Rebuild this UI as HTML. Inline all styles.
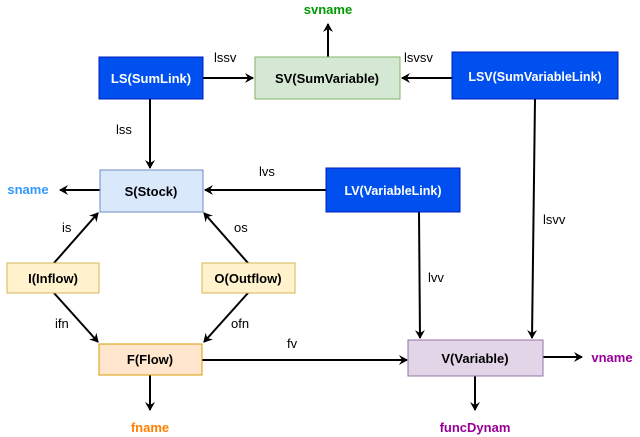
<!DOCTYPE html>
<html><head><meta charset="utf-8"><style>
html,body{margin:0;padding:0;background:#fff;}
svg{display:block;font-family:"Liberation Sans",Arial,sans-serif;}
.b{font-weight:bold;font-size:13px;text-anchor:middle;}
.l{font-size:13px;fill:#000;}
</style></head><body>
<svg width="640" height="437" viewBox="0 0 640 437" xmlns="http://www.w3.org/2000/svg">
<defs><marker id="a" markerWidth="10" markerHeight="10" refX="8" refY="5" orient="auto" markerUnits="userSpaceOnUse"><path d="M0,0 L9,5 L0,10 L3,5 z" fill="#000"/></marker></defs>
<g stroke="#000" stroke-width="2" fill="none" marker-end="url(#a)">
<line x1="328" y1="57" x2="328" y2="24"/>
<line x1="203" y1="78" x2="253" y2="78"/>
<line x1="452" y1="78" x2="402" y2="78"/>
<line x1="150" y1="99" x2="150" y2="168"/>
<line x1="326" y1="190" x2="205" y2="190"/>
<line x1="100" y1="190" x2="60" y2="190"/>
<line x1="54" y1="263" x2="98" y2="213"/>
<line x1="248" y1="263" x2="204" y2="213"/>
<line x1="54" y1="293" x2="98" y2="342"/>
<line x1="248" y1="293" x2="204" y2="342"/>
<line x1="419" y1="212" x2="420" y2="338"/>
<line x1="535" y1="99" x2="532" y2="338"/>
<line x1="202" y1="360" x2="407" y2="360"/>
<line x1="543" y1="357" x2="582" y2="357"/>
<line x1="150" y1="375" x2="150" y2="410"/>
<line x1="475" y1="376" x2="475" y2="410"/>
</g>
<rect x="99" y="57" width="104" height="42" fill="#0050ef" stroke="#001dbc"/>
<rect x="255" y="57" width="145" height="42" fill="#d5e8d4" stroke="#82b366"/>
<rect x="452" y="52" width="166" height="47" fill="#0050ef" stroke="#001dbc"/>
<rect x="100" y="170" width="103" height="42" fill="#dae8fc" stroke="#6c8ebf"/>
<rect x="326" y="168" width="134" height="44" fill="#0050ef" stroke="#001dbc"/>
<rect x="7" y="263" width="92" height="30" fill="#fff2cc" stroke="#d6b656"/>
<rect x="202" y="263" width="93" height="30" fill="#fff2cc" stroke="#d6b656"/>
<rect x="99" y="344" width="103" height="31" fill="#ffe6cc" stroke="#d79b00"/>
<rect x="408" y="340" width="135" height="36" fill="#e1d5e7" stroke="#9673a6"/>
<text class="b" x="151" y="83" fill="#fff">LS(SumLink)</text>
<text class="b" x="327" y="83">SV(SumVariable)</text>
<text class="b" x="535" y="81" fill="#fff" style="font-size:12.5px">LSV(SumVariableLink)</text>
<text class="b" x="151" y="196">S(Stock)</text>
<text class="b" x="393" y="195" fill="#fff" style="font-size:12.5px">LV(VariableLink)</text>
<text class="b" x="53" y="283">I(Inflow)</text>
<text class="b" x="248" y="283">O(Outflow)</text>
<text class="b" x="150" y="364">F(Flow)</text>
<text class="b" x="475" y="363">V(Variable)</text>
<text class="b" x="328" y="14" fill="#009900">svname</text>
<text class="b" x="28" y="194" fill="#3399ff">sname</text>
<text class="b" x="612" y="362" fill="#990099">vname</text>
<text class="b" x="150" y="432" fill="#ff8000">fname</text>
<text class="b" x="475" y="432" fill="#990099">funcDynam</text>
<text class="l" x="214" y="62">lssv</text>
<text class="l" x="404" y="62">lsvsv</text>
<text class="l" x="116" y="134">lss</text>
<text class="l" x="259" y="176">lvs</text>
<text class="l" x="62" y="232">is</text>
<text class="l" x="234" y="232">os</text>
<text class="l" x="55" y="328">ifn</text>
<text class="l" x="231" y="328">ofn</text>
<text class="l" x="287" y="348">fv</text>
<text class="l" x="428" y="282">lvv</text>
<text class="l" x="543" y="224">lsvv</text>
</svg>
</body></html>
